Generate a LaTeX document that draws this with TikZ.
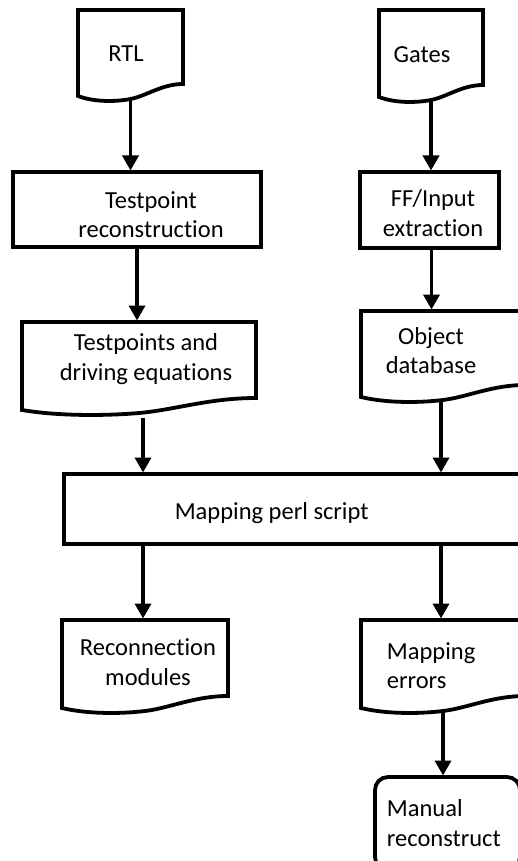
\documentclass[tikz,border=0pt]{standalone}
\usepackage{fontspec}
\setmainfont[Ligatures=NoCommon]{Carlito}
\usetikzlibrary{arrows.meta,calc}
\newcommand\fsz{\fontsize{24.5}{29.5}\selectfont}
\newcommand\docoutline[1]{%
  \draw[shapeline] (#1.south west) -- (#1.north west) -- (#1.north east)
    -- ($(#1.south east)+(0,-12)$)
    .. controls ($(#1.south west)!0.8!(#1.south east)+(0,-12)$) and ($(#1.south west)!0.65!(#1.south east)$)
    .. ($(#1.south west)!0.5!(#1.south east)+(0,3)$)
    .. controls ($(#1.south west)!0.35!(#1.south east)+(0,6)$) and ($(#1.south west)!0.15!(#1.south east)+(0,6)$)
    .. (#1.south west) -- cycle;}
\tikzset{
  shapeline/.style={line width=3.8pt, draw=black},
  frame/.style={draw=none, inner sep=0pt, outer sep=0pt, rectangle},
  boxframe/.style={draw=black, line width=3.8pt, inner sep=0pt, outer sep=0pt, rectangle},
  txt/.style={font=\fsz, align=center, inner sep=0pt, text=black},
  ltxt/.style={font=\fsz, align=left, inner sep=0pt, text=black, anchor=west},
  arr/.style={line width=3.6pt, -{Triangle[length=15pt,width=16pt]}, shorten >=1.5pt}
}
\begin{document}
\begin{tikzpicture}[x=1pt,y=-1pt]
\useasboundingbox (0,0) rectangle (518,861);
\clip (0,0) rectangle (518,861);
\fill[white] (0,0) rectangle (518,861);

% shapes (pixel coordinates, y downwards)
\node[frame, minimum width=105pt, minimum height=86pt] (rtl) at (130.5,53) {};
\node[frame, minimum width=104pt, minimum height=87pt] (gates) at (431,53.5) {};
\node[boxframe, minimum width=248pt, minimum height=75pt] (tp) at (137,209.5) {};
\node[boxframe, minimum width=139pt, minimum height=76pt] (ff) at (429.5,210) {};
\node[frame, minimum width=234pt, minimum height=88pt] (tpd) at (139,366) {};
\node[frame, minimum width=164pt, minimum height=86pt] (odb) at (443,354) {};
\node[boxframe, minimum width=466pt, minimum height=70pt] (map) at (297,509) {};
\node[frame, minimum width=166pt, minimum height=88pt] (rec) at (145,664) {};
\node[frame, minimum width=164pt, minimum height=88pt] (err) at (443,664) {};
\node[boxframe, rounded corners=13pt, minimum width=145pt, minimum height=93pt] (man) at (447.5,823.5) {};

\docoutline{rtl}
\docoutline{gates}
\docoutline{tpd}
\docoutline{odb}
\docoutline{rec}
\docoutline{err}

% texts
\node[txt] (rtlt) at (126,56.1) {\strut RTL};
\node[txt] (gatest) at (422,56.6) {\strut Gates};
\node[txt] (tpt) at (151,217.1) {\strut Testpoint\\\strut reconstruction};
\node[txt] (fft) at (433,215.75) {\strut FF/Input\\\strut extraction};
\node[txt] (tpdt) at (146,359.45) {\strut Testpoints and\\\strut driving equations};
\node[txt] (odbt) at (431,353.25) {\strut Object\\\strut database};
\node[txt] (mapt) at (271.7,513.4) {\strut Mapping perl script};
\node[txt] (rect) at (148,664.6) {\strut Reconnection\\\strut modules};
\node[ltxt] (errt) at (386.7,668.2) {\strut Mapping\\\strut errors};
\node[ltxt] (mant) at (386.7,825.4) {\strut Manual\\\strut reconstruct};

% connectors
\draw[arr] ([yshift=-3pt]rtl.south) -- (rtl.south |- tp.north);
\draw[arr] (tp.south) -- (tp.south |- tpd.north);
\draw[arr] ([yshift=-3pt]gates.south) -- (gates.south |- ff.north);
\draw[arr] ([xshift=2pt]ff.south) -- ([xshift=2pt]ff.south |- odb.north);
\draw[arr] ([xshift=4pt,yshift=-8pt]tpd.south) -- ([xshift=4pt]tpd.south |- map.north);
\draw[arr] ([xshift=-2pt,yshift=-5pt]odb.south) -- ([xshift=-2pt]odb.south |- map.north);
\draw[arr] ([xshift=-2pt]rec.north |- map.south) -- ([xshift=-2pt]rec.north);
\draw[arr] ([xshift=-2pt]err.north |- map.south) -- ([xshift=-2pt]err.north);
\draw[arr] ([yshift=-2pt]err.south) -- (err.south |- man.north);
\end{tikzpicture}
\end{document}
